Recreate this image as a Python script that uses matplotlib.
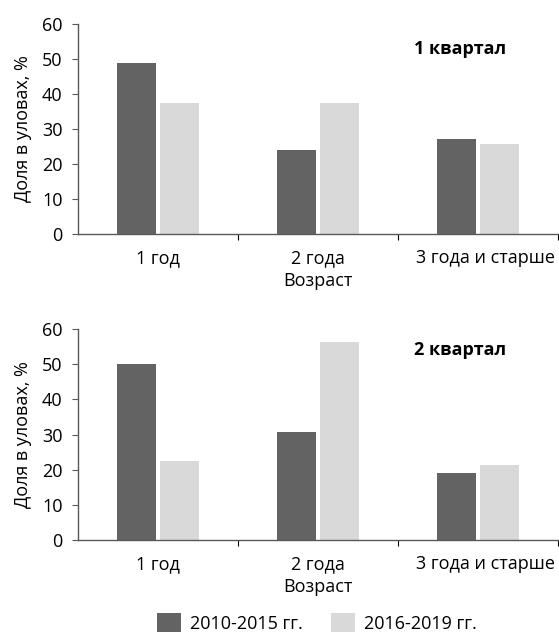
import matplotlib
matplotlib.use("Agg")
import matplotlib.pyplot as plt
from matplotlib.patches import Patch
import numpy as np

plt.rcParams['font.family'] = ['Open Sans', 'DejaVu Sans']

categories = ["1 год", "2 года", "3 года и старше"]
series_names = ["2010-2015 гг.", "2016-2019 гг."]
q1_early = [48.9, 23.9, 27.2]
q1_late = [37.4, 37.4, 25.7]
q2_early = [50.2, 30.8, 19.1]
q2_late = [22.4, 56.4, 21.3]
panel_titles = ["1 квартал", "2 квартал"]

DARK = "#636363"
LIGHT = "#d9d9d9"
AXIS = "#595959"
FS = 13

fig = plt.figure(figsize=(5.59, 6.35), dpi=100)
ax1 = fig.add_axes([0.1395, 0.6315, 0.8587, 0.3307])
ax2 = fig.add_axes([0.1395, 0.150, 0.8587, 0.3313])

x = np.arange(len(categories)) + 0.5
w = 0.245
off = 0.135
# label spots; the last one is nudged right so it sits against the edge
label_x = x + np.array([0.0, 0.0, 0.045])

for ax, early, late, title, ty in [(ax1, q1_early, q1_late, panel_titles[0], 0.88),
                                   (ax2, q2_early, q2_late, panel_titles[1], 0.90)]:
    ax.bar(x - off, early, width=w, color=DARK)
    ax.bar(x + off, late, width=w, color=LIGHT)
    ax.set_xlim(0, 3)
    ax.set_ylim(0, 60)
    ax.set_yticks(range(0, 61, 10))
    ax.tick_params(axis="y", labelsize=FS, length=4, color=AXIS, pad=7)
    ax.set_xticks([1, 2, 3])
    ax.set_xticklabels([])
    ax.tick_params(axis="x", which="major", length=4, color="black")
    ax.set_xticks(label_x, minor=True)
    ax.set_xticklabels(categories, minor=True, fontsize=FS)
    ax.tick_params(axis="x", which="minor", length=0, pad=11)
    for s in ["top", "right"]:
        ax.spines[s].set_visible(False)
    for s in ["left", "bottom"]:
        ax.spines[s].set_color(AXIS)
        ax.spines[s].set_linewidth(1.0)
    ax.set_xlabel("Возраст", fontsize=FS, labelpad=3.5)
    ax.set_ylabel("Доля в уловах, %", fontsize=FS, labelpad=7)
    ax.text(0.797, ty, title, transform=ax.transAxes, fontsize=FS,
            fontweight="bold", ha="center", va="center")

handles = [Patch(facecolor=DARK, label=series_names[0]),
           Patch(facecolor=LIGHT, label=series_names[1])]
fig.legend(handles=handles, loc="center", bbox_to_anchor=(0.567, 0.019),
           ncol=2, frameon=False, fontsize=FS, handlelength=1.33,
           handleheight=1.25, columnspacing=1.53, handletextpad=0.5,
           borderpad=0, borderaxespad=0)

fig.savefig("out.png", dpi=100)
